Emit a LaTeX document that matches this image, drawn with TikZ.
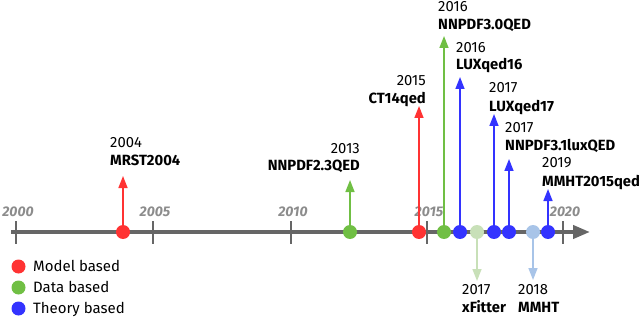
\documentclass[tikz,border=0pt]{standalone}
\usepackage{fontspec}
\setmainfont{Fira Sans}
\usetikzlibrary{arrows.meta}
\definecolor{cred}{HTML}{FF3333}
\definecolor{cgreen}{HTML}{70BF44}
\definecolor{cblue}{HTML}{3333FF}
\definecolor{clgreen}{HTML}{C8E0B8}
\definecolor{clblue}{HTML}{A8C4E8}
\definecolor{caxis}{HTML}{666666}
\definecolor{cyear}{HTML}{8C8C8C}
\tikzset{
  dot/.style={circle,fill=#1,inner sep=0pt,minimum size=14pt},
  evarrow/.style={draw=#1,line width=1.6pt,-{Triangle[width=9pt,length=12pt,fill=#1]}},
  yearlbl/.style={inner sep=0pt,font=\fontsize{14.8}{16}\selectfont},
  namelbl/.style={inner sep=0pt,font=\fontsize{14.8}{16}\selectfont\bfseries},
  axlbl/.style={inner sep=0pt,text=cyear,font=\fontsize{14}{15}\selectfont\bfseries\itshape},
  tickmark/.style={draw=caxis,line width=2.6pt},
  legtext/.style={inner sep=0pt,anchor=base west,font=\fontsize{15}{16}\selectfont},
}
\begin{document}
\begin{tikzpicture}[x=1pt,y=-1pt]
\useasboundingbox (0,0) rectangle (640,318);
% axis
\coordinate (axL) at (11,232);
\coordinate (axR) at (590,232);
\draw[draw=caxis,line width=4pt,-{Triangle[width=13pt,length=17pt,fill=caxis]}] (axL) -- (axR);
% dots
\node[dot=cred]    (d04) at (123,232) {};
\node[dot=cgreen]  (d13) at (350,232) {};
\node[dot=cred]    (d15) at (419,232) {};
\node[dot=cgreen]  (d16a) at (444,232) {};
\node[dot=cblue]   (d16b) at (460,232) {};
\node[dot=clgreen] (dxf) at (477,232) {};
\node[dot=cblue]   (d17a) at (494,232) {};
\node[dot=cblue]   (d17b) at (509,232) {};
\node[dot=clblue]  (dmm) at (533,232) {};
\node[dot=cblue]   (d19) at (548,232) {};
% ticks and axis labels
\foreach \x/\yr in {16/2000,153/2005,291/2010,427/2015,563/2020}{
  \coordinate (t\yr a) at (\x,221);
  \coordinate (t\yr b) at (\x,244);
  \draw[tickmark] (t\yr a) -- (t\yr b);
  \node[axlbl,anchor=base] (l\yr) at (\x+2,216.5) {\yr};
}
% arrow tips
\coordinate (a04) at (123,176);
\coordinate (a13) at (350,180);
\coordinate (a15) at (419,106);
\coordinate (a16a) at (444,36);
\coordinate (a16b) at (460,77);
\coordinate (a17a) at (494,114);
\coordinate (a17b) at (509,159);
\coordinate (a19) at (548,189);
\coordinate (axf) at (477,281);
\coordinate (amm) at (533,280);
\draw[evarrow=cred] (d04) -- (a04);
\draw[evarrow=cgreen] (d13) -- (a13);
\draw[evarrow=cred] (d15) -- (a15);
\draw[evarrow=cgreen] (d16a) -- (a16a);
\draw[evarrow=cblue] (d16b) -- (a16b);
\draw[evarrow=cblue] (d17a) -- (a17a);
\draw[evarrow=cblue] (d17b) -- (a17b);
\draw[evarrow=cblue] (d19) -- (a19);
\draw[evarrow=clgreen] (dxf) -- (axf);
\draw[evarrow=clblue] (dmm) -- (amm);
% labels
\node[yearlbl,anchor=base west] (y04) at (110,147.5) {2004};
\node[namelbl,anchor=base west] (n04) at (110,165.5) {MRST2004};
\node[yearlbl,anchor=base east] (y13) at (360,153.5) {2013};
\node[namelbl,anchor=base east] (n13) at (360,170.5) {NNPDF2.3QED};
\node[yearlbl,anchor=base west] (y16a) at (438,11.5) {2016};
\node[namelbl,anchor=base west] (n16a) at (438,29.5) {NNPDF3.0QED};
\node[yearlbl,anchor=base west] (y16b) at (456,52.5) {2016};
\node[namelbl,anchor=base west] (n16b) at (456,69.5) {LUXqed16};
\node[yearlbl,anchor=base east] (y15) at (426,85.5) {2015};
\node[namelbl,anchor=base east] (n15) at (426,103.5) {CT14qed};
\node[yearlbl,anchor=base west] (y17a) at (489,92.5) {2017};
\node[namelbl,anchor=base west] (n17a) at (489,111.5) {LUXqed17};
\node[yearlbl,anchor=base west] (y17b) at (505,132.5) {2017};
\node[namelbl,anchor=base west] (n17b) at (505,150) {NNPDF3.1luxQED};
\node[yearlbl,anchor=base west] (y19) at (542,167.5) {2019};
\node[namelbl,anchor=base west] (n19) at (542,186) {MMHT2015qed};
\node[yearlbl,anchor=base west] (yxf) at (462,294.5) {2017};
\node[namelbl,anchor=base west] (nxf) at (462,312) {xFitter};
\node[yearlbl,anchor=base west] (ymm) at (518,294.5) {2018};
\node[namelbl,anchor=base west] (nmm) at (518,312) {MMHT};
% legend
\node[dot=cred]   (g1) at (18.5,266.5) {};
\node[dot=cgreen] (g2) at (18.5,287.5) {};
\node[dot=cblue]  (g3) at (18.5,308.5) {};
\node[legtext] (gt1) at (33,271.5) {Model based};
\node[legtext] (gt2) at (33,292.5) {Data based};
\node[legtext] (gt3) at (33,313.5) {Theory based};
\end{tikzpicture}
\end{document}
